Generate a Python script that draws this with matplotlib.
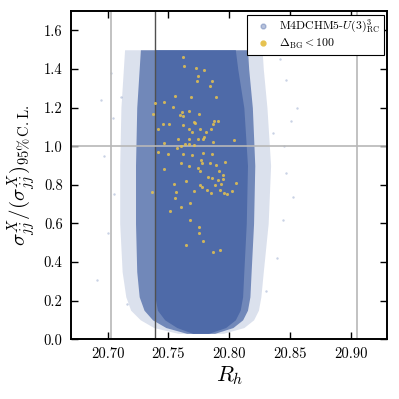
import matplotlib
matplotlib.use('Agg')
import matplotlib.pyplot as plt
from matplotlib.lines import Line2D

plt.rcParams['font.family'] = 'serif'
plt.rcParams['font.serif'] = ['cmr10']
plt.rcParams['mathtext.fontset'] = 'cm'
plt.rcParams['axes.unicode_minus'] = False
plt.rcParams['axes.formatter.use_mathtext'] = True

# envelope of the dense blue scan cloud
cloud_y = [0.03, 0.06, 0.10, 0.15, 0.22, 0.35, 0.60, 0.90, 1.20, 1.40, 1.50]
faint_left = [20.758, 20.738, 20.727, 20.719, 20.715, 20.712, 20.710, 20.710, 20.711, 20.713, 20.714]
faint_right = [20.795, 20.812, 20.820, 20.824, 20.826, 20.828, 20.832, 20.834, 20.831, 20.828, 20.827]
mid_left = [20.765, 20.748, 20.737, 20.730, 20.726, 20.724, 20.723, 20.723, 20.724, 20.726, 20.727]
mid_right = [20.788, 20.803, 20.811, 20.815, 20.817, 20.818, 20.820, 20.821, 20.819, 20.816, 20.815]
core_left = [20.770, 20.757, 20.747, 20.741, 20.739, 20.739, 20.739, 20.739, 20.739, 20.739, 20.739]
core_right = [20.783, 20.797, 20.805, 20.809, 20.811, 20.812, 20.814, 20.815, 20.812, 20.807, 20.805]

# sparse points outside the cloud
stray_x = [20.695, 20.7045, 20.711, 20.847, 20.851, 20.8555, 20.836, 20.847, 20.852, 20.844,
           20.691, 20.697, 20.700, 20.842, 20.839, 20.705, 20.703, 20.845, 20.830, 20.716]
stray_y = [1.24, 1.146, 1.256, 1.343, 1.132, 1.198, 1.068, 0.861, 0.738, 0.618,
           0.307, 0.95, 0.55, 1.45, 0.42, 0.75, 1.38, 1.00, 0.25, 0.18]

# Delta_BG < 100 points
bg_x = [20.7623, 20.7626, 20.7727, 20.7793, 20.7747, 20.7733, 20.7856, 20.7845, 20.7557, 20.7683,
        20.7894, 20.7464, 20.7541, 20.7670, 20.7610, 20.7755, 20.7596, 20.7623, 20.7377, 20.7708,
        20.7722, 20.7905, 20.7875, 20.7864, 20.7459, 20.7503, 20.7623, 20.7667, 20.7763, 20.7848,
        20.7694, 20.7807, 20.7415, 20.7796, 20.7788, 20.7741, 20.7577, 20.7673, 20.7637, 20.7670,
        20.7708, 20.7464, 20.7864, 20.8042, 20.7571, 20.7607, 20.7412, 20.7500, 20.7618, 20.7692,
        20.7788, 20.7859, 20.7768, 20.7601, 20.7673, 20.7777, 20.7842, 20.7894, 20.7968, 20.7747,
        20.7760, 20.7467, 20.7914, 20.7829, 20.7859, 20.7947, 20.7947, 20.7905, 20.7645, 20.7544,
        20.7763, 20.7777, 20.7881, 20.7936, 20.8056, 20.7714, 20.7815, 20.7853, 20.7925, 20.7957,
        20.7985, 20.8026, 20.7560, 20.7552, 20.7604, 20.7681, 20.7516, 20.7675, 20.7755, 20.7752,
        20.7782, 20.7648, 20.7925, 20.7864, 20.7363, 20.7393]
bg_y = [1.460, 1.415, 1.405, 1.396, 1.364, 1.336, 1.336, 1.310, 1.258, 1.257,
        1.253, 1.229, 1.201, 1.182, 1.175, 1.167, 1.160, 1.155, 1.169, 1.124,
        1.120, 1.132, 1.129, 1.117, 1.113, 1.117, 1.108, 1.091, 1.087, 1.091,
        1.074, 1.074, 1.087, 1.049, 1.039, 1.039, 1.039, 1.036, 1.010, 1.011,
        1.006, 1.018, 1.024, 1.032, 0.989, 1.001, 0.972, 0.961, 0.961, 0.955,
        0.963, 0.960, 0.929, 0.915, 0.898, 0.915, 0.911, 0.903, 0.917, 0.885,
        0.870, 0.880, 0.873, 0.841, 0.834, 0.853, 0.832, 0.825, 0.818, 0.804,
        0.801, 0.787, 0.797, 0.803, 0.811, 0.770, 0.772, 0.760, 0.773, 0.756,
        0.753, 0.766, 0.761, 0.730, 0.684, 0.706, 0.666, 0.615, 0.580, 0.552,
        0.508, 0.490, 0.464, 0.451, 0.761, 1.226]

light_vlines = [20.7028, 20.9047]
dark_vline = 20.7387
hline = 1.0

blue = '#4e6aa8'
yellow = '#e6c24f'

fig = plt.figure(figsize=(3.99, 3.99), dpi=100)
ax = fig.add_axes([0.178, 0.150, 0.793, 0.822])

# scan cloud drawn as three density bands
ax.fill_betweenx(cloud_y, faint_left, faint_right, color=blue, alpha=0.2, lw=0, zorder=1)
ax.fill_betweenx(cloud_y, mid_left, mid_right, color=blue, alpha=0.75, lw=0, zorder=1)
ax.fill_betweenx(cloud_y, core_left, core_right, color=blue, alpha=1.0, lw=0, zorder=1)
ax.scatter(stray_x, stray_y, s=3, color=blue, alpha=0.3, lw=0, zorder=1)

for xv in light_vlines:
    ax.axvline(xv, color='#b8b8b8', lw=1.2, zorder=2)
ax.axvline(dark_vline, color='#505050', lw=1.0, zorder=2)
ax.axhline(hline, color='#b8b8b8', lw=1.2, zorder=2)

ax.scatter(bg_x, bg_y, s=5, color=yellow, alpha=0.85, lw=0, zorder=3)

ax.set_xlim(20.67, 20.93)
ax.set_ylim(0.0, 1.7)
ax.set_xticks([20.70, 20.75, 20.80, 20.85, 20.90])
ax.set_xticklabels(['20.70', '20.75', '20.80', '20.85', '20.90'])
ax.set_yticks([0.0, 0.2, 0.4, 0.6, 0.8, 1.0, 1.2, 1.4, 1.6])
ax.set_yticklabels(['0.0', '0.2', '0.4', '0.6', '0.8', '1.0', '1.2', '1.4', '1.6'])
ax.tick_params(direction='in', top=True, right=True, length=5, width=1, labelsize=10.5, pad=6)
for s in ax.spines.values():
    s.set_linewidth(1.4)

ax.set_xlabel(r'$R_h$', fontsize=16, labelpad=2)
ax.set_ylabel(r'$\sigma^{X}_{jj}/(\sigma^{X}_{jj})_{95\%\,\mathrm{C.L.}}$', fontsize=15, labelpad=4)

handles = [
    Line2D([], [], ls='none', marker='o', ms=3.5, color=blue, alpha=0.4,
           label=r'M4DCHM5-$U(3)^3_{\mathrm{RC}}$'),
    Line2D([], [], ls='none', marker='o', ms=3.5, color=yellow, label=r'$\Delta_{\mathrm{BG}}<100$'),
]
leg = ax.legend(handles=handles, loc='upper right', fontsize=8.5, fancybox=False,
                framealpha=1, edgecolor='black', borderaxespad=0.3, handletextpad=0.4,
                labelspacing=0.15, borderpad=0.3, handlelength=2.0)
leg.get_frame().set_linewidth(0.8)

plt.savefig('out.png', dpi=100)
plt.close()
